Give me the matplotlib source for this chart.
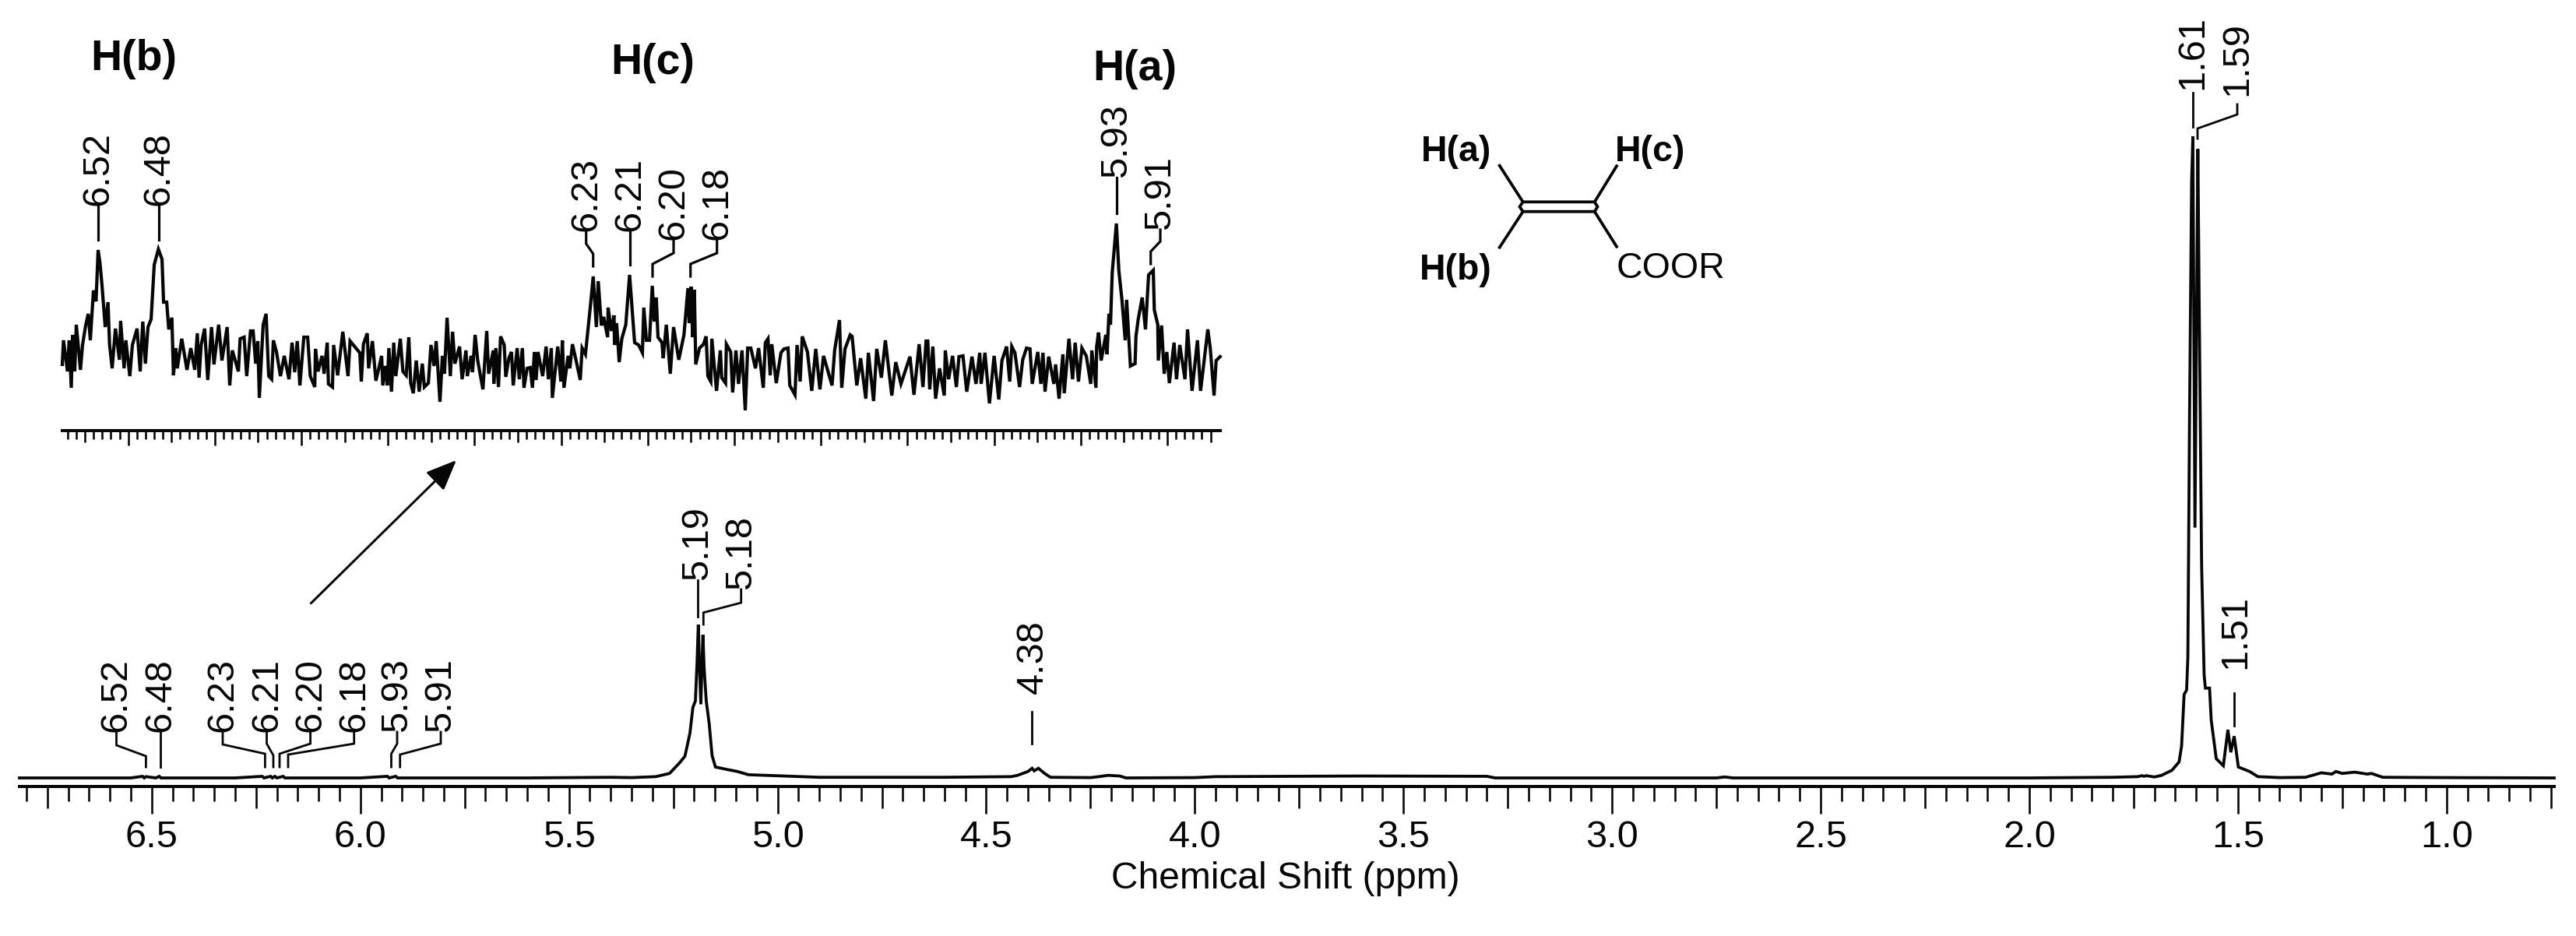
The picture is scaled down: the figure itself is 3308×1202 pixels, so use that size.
import numpy as np
import matplotlib
matplotlib.use("Agg")
import matplotlib.pyplot as plt
from matplotlib.lines import Line2D
from matplotlib.patches import FancyArrowPatch
from matplotlib.ticker import FixedLocator, FixedFormatter

# ---- main spectrum (ppm, % of tallest peak)
main_ppm = [6.817, 6.55, 6.522, 6.518, 6.514, 6.49, 6.482, 6.478, 6.3, 6.235, 6.231, 6.215, 6.211, 6.205, 6.2, 6.185,
            6.181, 6.0, 5.935, 5.931, 5.915, 5.911, 5.6, 5.5, 5.4, 5.35, 5.292, 5.259, 5.24, 5.233, 5.222, 5.21, 5.203, 5.197,
            5.193, 5.19, 5.187, 5.184, 5.181, 5.179, 5.176, 5.171, 5.164, 5.157, 5.149, 5.12, 5.096, 5.07, 4.9, 4.6,
            4.44, 4.425, 4.40, 4.39, 4.385, 4.375, 4.36, 4.346, 4.25, 4.23, 4.208, 4.18, 4.165, 4.0, 3.95, 3.6,
            3.3, 3.28, 2.75, 2.73, 2.71, 2.0, 1.80, 1.74, 1.73, 1.725, 1.72, 1.70, 1.683, 1.658, 1.641, 1.635,
            1.629, 1.623, 1.620, 1.616, 1.611, 1.608, 1.603, 1.596, 1.593, 1.587, 1.581, 1.578, 1.573, 1.568, 1.564,
            1.552, 1.535, 1.524, 1.517, 1.509, 1.499, 1.472, 1.452, 1.40, 1.338, 1.30, 1.275, 1.265, 1.25, 1.22,
            1.19, 1.18, 1.153, 1.0, 0.742]
main_int = [0, 0, 0.25, 0, 0.2, 0, 0.25, 0, 0, 0.25, 0, 0.25, 0, 0.25, 0, 0.25,
            0, 0, 0.25, 0, 0.25, 0, 0, 0.05, 0.1, 0.05, 0.2, 0.7, 2.0, 2.5, 3.4, 7, 11, 12,
            18, 23.9, 17, 11.5, 18, 22.3, 17, 12, 8.5, 3.5, 1.7, 1.3, 1.0, 0.5, 0.1, 0.1,
            0.2, 0.4, 1.0, 1.5, 1.1, 1.5, 0.7, 0.1, 0.05, 0.2, 0.4, 0.3, 0, 0.05, 0.2, 0.3,
            0.25, 0, 0, 0.15, 0, 0, 0.1, 0.2, 0.35, 0.25, 0.35, 0.15, 0.4, 1.2, 2.5, 5,
            13, 13.7, 18.8, 56, 93, 100, 39, 98, 75, 33, 16, 14, 14, 14, 9,
            3, 1.9, 7.5, 4, 6.5, 1.7, 1.0, 0.2, 0.05, 0.1, 0.8, 0.6, 1.0, 0.7, 0.9,
            0.6, 0.7, 0.1, 0.05, 0]

main_ticks = [6.5, 6.0, 5.5, 5.0, 4.5, 4.0, 3.5, 3.0, 2.5, 2.0, 1.5, 1.0]
main_tick_labels = ["6.5", "6.0", "5.5", "5.0", "4.5", "4.0", "3.5", "3.0", "2.5", "2.0", "1.5", "1.0"]
x_label = "Chemical Shift (ppm)"

# ---- inset trace (ppm, height above its noise floor)
inset_ppm = [
    6.5381, 6.5374, 6.5351, 6.5341, 6.5329, 6.5321, 6.5309, 6.5300, 6.5276, 6.5264, 6.5246, 6.5231, 6.5219, 6.5201,
    6.5186, 6.5174, 6.5163, 6.5151, 6.5133, 6.5117, 6.5108, 6.5093, 6.5074, 6.5051, 6.5044, 6.5024, 6.5014, 6.4991,
    6.4976, 6.4949, 6.4931, 6.4916, 6.4901, 6.4886, 6.4868, 6.4850, 6.4826, 6.4805, 6.4796, 6.4778, 6.4766, 6.4748,
    6.4739, 6.4726, 6.4717, 6.4691, 6.4661, 6.4639, 6.4616, 6.4601, 6.4591, 6.4579, 6.4559, 6.4541, 6.4519, 6.4505,
    6.4478, 6.4459, 6.4429, 6.4414, 6.4399, 6.4364, 6.4354, 6.4331, 6.4316, 6.4294, 6.4279, 6.4264, 6.4252, 6.4243,
    6.4221, 6.4204, 6.4189, 6.4172, 6.4162, 6.4144, 6.4121, 6.4099, 6.4072, 6.4054, 6.4039, 6.4024, 6.4009, 6.3986,
    6.3964, 6.3949, 6.3923, 6.3919, 6.3904, 6.3881, 6.3869, 6.3851, 6.3844, 6.3821, 6.3814, 6.3791, 6.3761, 6.3731, 6.3719,
    6.3663, 6.3654, 6.3642, 6.3620, 6.3612, 6.3590, 6.3570, 6.3552, 6.3537, 6.3530, 6.3515, 6.3504, 6.3495, 6.3480,
    6.3467, 6.3455, 6.3429, 6.3414, 6.3395, 6.3380, 6.3369, 6.3354, 6.3337, 6.3320, 6.3302, 6.3290, 6.3267, 6.3252,
    6.3234, 6.3222, 6.3200, 6.3186, 6.3174, 6.3159, 6.3140, 6.3127, 6.3114, 6.3087, 6.3072, 6.3050, 6.3042, 6.3020,
    6.3012, 6.2997, 6.2982, 6.2952, 6.2930, 6.2919, 6.2892, 6.2889, 6.2877, 6.2862, 6.2850, 6.2829, 6.2820, 6.2802,
    6.2787, 6.2777, 6.2754, 6.2742, 6.2724, 6.2715, 6.2697, 6.2679, 6.2666, 6.2655, 6.2645, 6.2634, 6.2607, 6.2587,
    6.2574, 6.2557, 6.2551, 6.2520, 6.2502, 6.2493, 6.2484, 6.2460, 6.2450, 6.2435, 6.2412, 6.2390, 6.2379, 6.2360,
    6.2345, 6.2330, 6.2315, 6.2297, 6.2286, 6.2268, 6.2255, 6.2232, 6.2229, 6.2210, 6.2195, 6.2192, 6.2180, 6.2165,
    6.2150, 6.2127, 6.2105,
    6.2076, 6.2053, 6.2031, 6.2023, 6.2008, 6.1990, 6.1974, 6.1963, 6.1951, 6.1941, 6.1918, 6.1911, 6.1893, 6.1870,
    6.1851, 6.1821, 6.1791, 6.1768, 6.1761, 6.1750, 6.1741, 6.1731, 6.1723, 6.1701, 6.1678, 6.1663, 6.1653, 6.1636,
    6.1630, 6.1603, 6.1581, 6.1573, 6.1551, 6.1546, 6.1521, 6.1510, 6.1491, 6.1476, 6.1456, 6.1437, 6.1423, 6.1405,
    6.1378, 6.1360, 6.1333, 6.1321, 6.1306, 6.1293, 6.1284, 6.1258, 6.1231, 6.1213, 6.1190, 6.1180, 6.1150, 6.1138,
    6.1120, 6.1108, 6.1078, 6.1053, 6.1030, 6.1006, 6.0985, 6.0936, 6.0921, 6.0893, 6.0880, 6.0861, 6.0831, 6.0820,
    6.0793, 6.0771, 6.0741, 6.0726, 6.0696, 6.0678, 6.0651, 6.0628, 6.0591, 6.0568, 6.0538, 6.0486, 6.0463, 6.0433,
    6.0411, 6.0393,
    6.0383, 6.0372, 6.0354, 6.0338, 6.0315, 6.0288, 6.0282, 6.0263, 6.0240, 6.0218, 6.0203, 6.0180, 6.0158, 6.0128,
    6.0105, 6.0083, 6.0075, 6.0053, 6.0027, 6.0000, 5.9973, 5.9955, 5.9928, 5.9910, 5.9898, 5.9880, 5.9853, 5.9835,
    5.9813, 5.9793, 5.9780, 5.9748, 5.9730, 5.9718, 5.9706, 5.9685, 5.9655, 5.9645, 5.9625, 5.9603, 5.9595, 5.9568,
    5.9547, 5.9532, 5.9513, 5.9493, 5.9468, 5.9442, 5.9436, 5.9412, 5.9408, 5.9397, 5.9382, 5.9355, 5.9348, 5.9337,
    5.9328, 5.9318, 5.9294, 5.9280, 5.9262, 5.9243, 5.9235, 5.9213, 5.9186, 5.9181, 5.9168, 5.9145, 5.9126, 5.9108,
    5.9081, 5.9075, 5.9055, 5.9052, 5.9033, 5.9018, 5.9003, 5.8988, 5.8961, 5.8947, 5.8928, 5.8898, 5.8883, 5.8857,
    5.8826, 5.8808, 5.8766, 5.8752, 5.8730, 5.8718, 5.8695]
inset_int = [
    -12, 19, -21, 19, -42, 26, -21, 39, -19, 13, 38, 53, 19, 83,
    69, 135, 118, 88, 36, 68, 14, -17, 34, -6, 44, -17, 19, -27,
    13, 34, -21, 43, -11, 36, 46, 116, 136, 123, 68, 68, 33, 48,
    -26, 9, -17, 21, -19, 9, -19, 28, -29, 13, 34, -32, 36, -12,
    39, -7, 36, -39, 6, -21, 21, 23, -27, 31, 31, -11, 18, -55,
    39, 53, -27, -31, 19, 4, -27, -1, -31, 16, -22, 18, -39, 23,
    23, -27, -41, 8, -21, -1, -24, 16, -37, -41, 13, -26, 30, -27, 18,
    3, -34, 14, 28, -17, 18, -33, -16, -1, -39, -14, -39, 9, -47,
    16, -27, 21, -21, -26, 23, -36, -49, -7, -47, -11, -41, -36, 13,
    -14, 18, -60, -1, -24, 48, -27, 30, -11, 11, -31, 6, -27, -1,
    -22, 26, -7, -44, 31, -24, 6, -37, 9, -41, 24, 13, -28, -4,
    4, -39, 9, -31, 9, -42, -17, -16, -42, 4, -32, 4, -27, 11,
    -31, 9, -55, 11, -34, 19, -42, -1, -17, 14, -9, -32, 9, 1,
    33, 66, 101, 36, 95, 38, 49, 23, 61, 31, 51, 13, 41, -9,
    21, 39, 103,
    16, 13, 3, 61, 19, 19, 89, 43, 74, 23, 16, -4, 39, -24,
    36, -6, 26, 86, 41, 88, 23, 84, -12, 9, 14, 24, -27, -34,
    21, -46, 6, -29, -36, 14, 4, -48, 6, -37, 6, -71, 9, 9,
    -17, 9, -42, 16, 21, -26, 14, -36, 3, 8, 9, -39, -51, 13,
    -34, 24, 4, -46, 8, -44, -1, -39, 6, 45, -42, 8, 26, 24,
    -39, -4, -56, 3, -59, 8, -29, 19, -52, -9, -37, -2, -51, 14,
    -41, 18,
    18, -44, 11, -56, -17, -52, 6, -31, -1, -41, -2, -1, -47, -2,
    -37, 3, -37, 3, -62, -1, -57, -7, 11, -34, 11, 3, -41, -6,
    9, 8, -37, 4, -37, 3, -47, -2, -37, -12, -56, 1, -49, 21,
    -31, 16, -34, 9, -1, -37, 6, -42, 11, 29, -7, 26, 1, 53,
    39, 106, 169, 109, 71, 19, 71, -14, -11, 24, 46, 74, 33, 103,
    109, 58, 39, -7, 38, -24, 4, -36, 16, -31, 13, -31, 33, -46,
    19, -46, 33, 9, -52, -7, -2]

# ---- peak labels
main_labels = ["6.52", "6.48", "6.23", "6.21", "6.20", "6.18", "5.93", "5.91", "5.19", "5.18", "4.38", "1.61", "1.59", "1.51"]
inset_labels = ["6.52", "6.48", "6.23", "6.21", "6.20", "6.18", "5.93", "5.91"]

W, H = 3308, 1202
plt.rcParams["font.family"] = ["Liberation Sans", "DejaVu Sans"]
fig = plt.figure(figsize=(W / 100, H / 100), dpi=100, facecolor="white")


def P(x, y):
    return x / W, 1 - y / H


def axes_px(x0, x1, y_bottom):
    return fig.add_axes([x0 / W, 1 - y_bottom / H, (x1 - x0) / W, y_bottom / H])


INK = "#060606"
pt = 0.72

# ---- main axes
ax = axes_px(25, 3280, 1010)
ax.patch.set_alpha(0)
ax.plot(main_ppm, main_int, color=INK, lw=3.8 * pt, solid_joinstyle="miter", clip_on=False)
ax.set_xlim(6.817, 0.742)
ax.set_ylim(-11 / 8.24, 999 / 8.24)
for s in ("top", "left", "right"):
    ax.spines[s].set_visible(False)
ax.spines["bottom"].set_linewidth(4 * pt)
ax.spines["bottom"].set_color(INK)
ax.yaxis.set_visible(False)
ax.xaxis.set_major_locator(FixedLocator(main_ticks))
ax.xaxis.set_major_formatter(FixedFormatter(main_tick_labels))
minor_main = np.round(np.arange(0.75, 6.8001, 0.05), 2)
ax.xaxis.set_minor_locator(FixedLocator(minor_main))
ax.tick_params(axis="x", which="major", length=35 * pt, width=2.6 * pt, pad=6, labelsize=35, color=INK, labelcolor=INK)
ax.tick_params(axis="x", which="minor", length=19 * pt, width=2.6 * pt, color=INK)
for t, loc in zip(ax.xaxis.get_minor_ticks(), ax.xaxis.get_minorticklocs()):
    if abs(loc / 0.25 - round(loc / 0.25)) < 1e-6:
        t.tick1line.set_markersize(28 * pt)
fig.text(*P(1651, 1141), x_label, ha="center", va="baseline", fontsize=34.5, color=INK)

# ---- inset axes
ins = axes_px(79.5, 1567, 553)
ins.patch.set_alpha(0)
ins.plot(inset_ppm, inset_int, color=INK, lw=4.2 * pt, solid_joinstyle="miter", clip_on=False)
ins.set_xlim(6.5 + 85.2 / 2224, 5.9 - 68 / 2224)
ins.set_ylim(-97, 456)
for s in ("top", "left", "right"):
    ins.spines[s].set_visible(False)
ins.spines["bottom"].set_linewidth(4 * pt)
ins.spines["bottom"].set_color(INK)
ins.yaxis.set_visible(False)
ins.xaxis.set_major_locator(FixedLocator(np.round(np.arange(5.9, 6.5001, 0.05), 2)))
ins.xaxis.set_major_formatter(FixedFormatter([]))
ins.xaxis.set_minor_locator(FixedLocator(np.round(np.arange(5.875, 6.5351, 0.005), 3)))
ins.tick_params(axis="x", which="major", length=19 * pt, width=2.6 * pt, color=INK, labelbottom=False)
ins.tick_params(axis="x", which="minor", length=10.5 * pt, width=2.6 * pt, color=INK)
for t, loc in zip(ins.xaxis.get_minor_ticks(), ins.xaxis.get_minorticklocs()):
    if abs(loc / 0.025 - round(loc / 0.025)) < 1e-6:
        t.tick1line.set_markersize(15 * pt)


# ---- leaders and rotated labels (page layout, in pixels)
def leader(points, lw):
    xs = [p[0] / W for p in points]
    ys = [1 - p[1] / H for p in points]
    fig.add_artist(Line2D(xs, ys, transform=fig.transFigure, color=INK, lw=lw * pt, solid_joinstyle="miter"))


def vlabel(x, y_bottom, s):
    fig.text(*P(x, y_bottom), s, rotation=90, ha="center", va="bottom", fontsize=35, color=INK)


main_leaders = [
    [(149.5, 940), (149.5, 957), (187.4, 971), (187.4, 985)],
    [(205.6, 940), (205.6, 985)],
    [(286, 940), (286, 956), (340.4, 968), (340.4, 985)],
    [(342.5, 940), (342.5, 955), (351, 970), (351, 985)],
    [(398.6, 940), (398.6, 955), (359, 968), (359, 985)],
    [(454.7, 940), (454.7, 955), (370, 969), (370, 985)],
    [(510, 940), (510, 955), (502.5, 968), (502.5, 985)],
    [(566, 940), (566, 955), (513.7, 969), (513.7, 985)],
    [(896, 745), (896, 792)],
    [(951.7, 757), (951.7, 774), (903.3, 786.7), (903.3, 802)],
    [(1324.6, 914), (1324.6, 955)],
    [(2816, 119), (2816, 163)],
    [(2873, 134), (2873, 147), (2822, 165), (2822, 178)],
    [(2868.6, 890), (2868.6, 932)],
]
main_label_pos = [(149.5, 940), (205.6, 940), (286, 940), (342.5, 940), (398.6, 940), (454.7, 940), (510, 940), (566, 940),
                  (896, 745), (951.7, 757), (1326.7, 891), (2816, 115), (2873, 123), (2871, 859)]
for s, xy, pts in zip(main_labels, main_label_pos, main_leaders):
    vlabel(xy[0], xy[1], s)
    leader(pts, 2.8)

inset_leaders = [
    [(126, 264), (126, 308)],
    [(204, 264), (204, 308)],
    [(752.7, 297), (752.7, 313), (761.7, 326), (761.7, 342)],
    [(809, 297), (809, 340)],
    [(865, 308), (865, 325), (838, 339), (838, 355)],
    [(920.7, 308), (920.7, 325), (886.7, 339), (886.7, 355)],
    [(1434, 228), (1434, 274)],
    [(1490, 295), (1490, 310), (1477.7, 323), (1477.7, 339)],
]
inset_label_pos = [(126, 264), (204, 264), (752.7, 297), (809, 297), (865, 308), (920.7, 308), (1434, 228), (1490, 295)]
for s, xy, pts in zip(inset_labels, inset_label_pos, inset_leaders):
    vlabel(xy[0], xy[1], s)
    leader(pts, 3.2)

# ---- group headings
fig.text(*P(116, 90), "H(b)", fontsize=40, fontweight="bold", color=INK, va="baseline")
fig.text(*P(784, 95), "H(c)", fontsize=40, fontweight="bold", color=INK, va="baseline")
fig.text(*P(1403, 102.7), "H(a)", fontsize=40, fontweight="bold", color=INK, va="baseline")

# ---- structure
fig.text(*P(1825, 206.7), "H(a)", fontsize=33.5, fontweight="bold", color=INK, va="baseline")
fig.text(*P(2074, 206.7), "H(c)", fontsize=33.5, fontweight="bold", color=INK, va="baseline")
fig.text(*P(1823, 359), "H(b)", fontsize=33.5, fontweight="bold", color=INK, va="baseline")
fig.text(*P(2076, 357), "COOR", fontsize=33.5, color=INK, va="baseline")
leader([(1925.7, 212.7), (1955.7, 259.3), (2047.7, 259.3), (2076, 213.3)], 3.8)
leader([(1925.7, 317.7), (1955.7, 271.7), (2047.7, 271.7), (2076, 316.7)], 3.8)
leader([(1955.7, 259.3), (1951.5, 265.5), (1955.7, 271.7)], 3.8)
leader([(2047.7, 259.3), (2051.5, 265.5), (2047.7, 271.7)], 3.8)

# ---- arrow from the main spectrum to the inset
fig.add_artist(FancyArrowPatch(P(399.3, 774.7), P(586, 591), transform=fig.transFigure,
                               arrowstyle="-|>,head_length=1.0,head_width=0.42", mutation_scale=24,
                               color=INK, lw=3 * pt, shrinkA=0, shrinkB=0))

fig.savefig("out.png", dpi=100, facecolor="white")
